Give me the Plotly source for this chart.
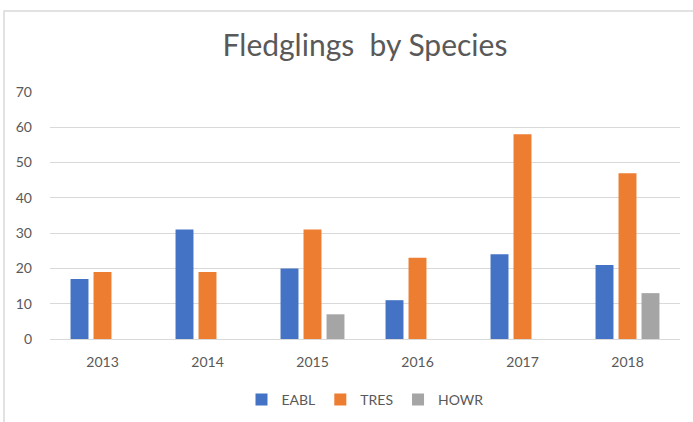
import plotly.graph_objects as go

years = ["2013", "2014", "2015", "2016", "2017", "2018"]
eabl = [17, 31, 20, 11, 24, 21]
tres = [19, 19, 31, 23, 58, 47]
howr = [0, 0, 7, 0, 0, 13]
y_ticks = [0, 10, 20, 30, 40, 50, 60, 70]

series = [("EABL", eabl, "#4472C4"), ("TRES", tres, "#ED7D31"), ("HOWR", howr, "#A5A5A5")]

fig = go.Figure()
for name, vals, col in series:
    fig.add_trace(go.Bar(x=years, y=vals, name=name, marker=dict(color=col, line=dict(width=0))))

W, H = 693, 422
L, R, T, B = 50, 13, 92, 83
pw, ph = W - L - R, H - T - B

def px_x(x):
    return (x - L) / pw

def px_y(y):
    return (H - B - y) / ph

fig.update_layout(
    width=W, height=H,
    margin=dict(l=L, r=R, t=T, b=B, autoexpand=False),
    paper_bgcolor="white", plot_bgcolor="white",
    barmode="group", bargap=0.343, bargroupgap=0.22,
    font=dict(family="Lato, 'Open Sans', sans-serif", color="#595959", size=14),
    title=dict(text="Fledglings  by Species", x=0.5, xanchor="center", xref="paper",
               y=1 - 45 / H, yanchor="middle", yref="container",
               font=dict(size=30, color="#595959")),
    xaxis=dict(type="category", showgrid=False, showline=False, ticks="",
               ticklabelstandoff=13, tickfont=dict(size=14, color="#595959")),
    yaxis=dict(range=[0, 70], tickvals=y_ticks, showgrid=True, gridcolor="#D9D9D9",
               gridwidth=1, zeroline=True, zerolinecolor="#D9D9D9", zerolinewidth=1,
               showline=False, ticks="", ticklabelstandoff=17,
               tickfont=dict(size=14, color="#595959")),
    legend=dict(orientation="h", x=0.5, xanchor="center", y=px_y(400), yanchor="middle",
                font=dict(size=14, color="#595959"), itemwidth=30, traceorder="normal"),
    showlegend=True,
    shapes=[dict(type="rect", xref="paper", yref="paper",
                 x0=px_x(4), x1=px_x(W + 5), y0=px_y(H + 5), y1=px_y(11),
                 line=dict(color="#D9D9D9", width=1.5), fillcolor="rgba(0,0,0,0)", layer="below")],
)

fig.write_html("out.html", config={"displayModeBar": False},
               post_script="document.body.style.margin='0';document.body.style.overflow='hidden';")
